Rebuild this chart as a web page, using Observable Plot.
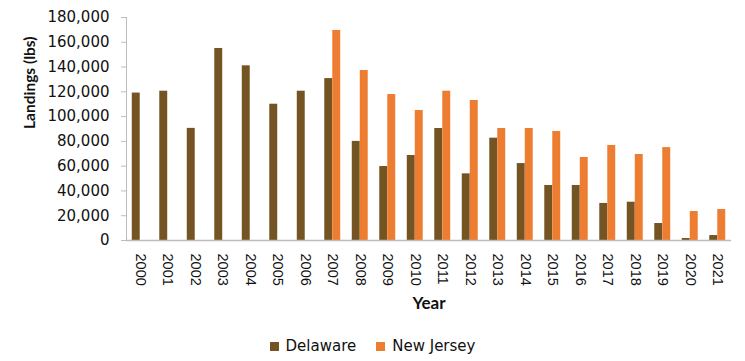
<!DOCTYPE html>
<html>
<head>
<meta charset="utf-8">
<script src="https://cdn.jsdelivr.net/npm/d3@7"></script>
<script src="https://cdn.jsdelivr.net/npm/@observablehq/plot@0.6"></script>
<style>
  html, body { margin: 0; padding: 0; background: #fff; }
  #chart { width: 745px; }
  .legend { display: flex; justify-content: center; align-items: center; height: 20px; margin-top: 16px;
            font-family: "DejaVu Sans", sans-serif; font-size: 15px; color: #111; }
  .legend .item { display: flex; align-items: center; margin: 0 10px; }
  .legend .sw { width: 9px; height: 9px; margin-right: 7px; }
</style>
</head>
<body>
<div id="chart"></div>
<script>
const years = ["2000","2001","2002","2003","2004","2005","2006","2007","2008","2009","2010",
               "2011","2012","2013","2014","2015","2016","2017","2018","2019","2020","2021"];
const delaware = [119000,120500,90500,155000,141000,110000,120500,130700,80000,59700,68600,
                  90400,53800,82600,62100,44400,44400,29900,30900,13700,1600,4000];
const newJersey = [null,null,null,null,null,null,null,169500,137200,117800,104900,
                   120500,113000,90400,90400,88000,67000,76700,69400,75000,23400,25000];
const seriesNames = ["Delaware", "New Jersey"];
const seriesColors = ["#735422", "#ED7D31"];
const yTicks = [0,20000,40000,60000,80000,100000,120000,140000,160000,180000];

const rowsDE = years.map((y, i) => ({year: y, series: seriesNames[0], value: delaware[i]}));
const rowsNJ = years.map((y, i) => ({year: y, series: seriesNames[1], value: newJersey[i]}))
                    .filter(d => d.value != null);

const plot = Plot.plot({
  width: 745,
  height: 320,
  marginLeft: 126,
  marginRight: 14,
  marginTop: 17,
  marginBottom: 80,
  style: {fontFamily: "DejaVu Sans, sans-serif", background: "#fff"},
  x: {domain: years, paddingInner: 0.42, paddingOuter: 0.21, round: false, axis: null},
  y: {domain: [0, 180000], axis: null},
  marks: [
    Plot.barY(rowsDE, {x: "year", y: "value", fill: seriesColors[0], insetRight: 8}),
    Plot.barY(rowsNJ, {x: "year", y: "value", fill: seriesColors[1], insetLeft: 8}),
    Plot.ruleY([0], {stroke: "#bdbdbd", strokeWidth: 1.3}),
    Plot.axisY({ticks: yTicks, tickFormat: d3.format(","), tickSize: 5, tickPadding: 12,
                stroke: "#bdbdbd", fill: "#111", fontSize: 15, label: null}),
    Plot.frame({anchor: "left", stroke: "#bdbdbd"}),
    Plot.axisX({tickSize: 0, tickRotate: 90, tickPadding: 13, fontSize: 14.5,
                fontFamily: "Liberation Sans, Arial, sans-serif", fill: "#111", label: null}),
    Plot.text(["Landings (lbs)"], {text: d => d, frameAnchor: "left", rotate: -90, dx: -96, dy: 0,
              fontWeight: "bold", fontFamily: "Lato", fontSize: 15.5, fill: "#111"}),
    Plot.text(["Year"], {text: d => d, frameAnchor: "bottom", dy: 63, lineAnchor: "middle",
              fontWeight: "bold", fontFamily: "Lato", fontSize: 17, fill: "#111"})
  ]
});
document.getElementById("chart").appendChild(plot);

const legend = document.createElement("div");
legend.className = "legend";
seriesNames.forEach((name, i) => {
  const item = document.createElement("div");
  item.className = "item";
  const sw = document.createElement("span");
  sw.className = "sw";
  sw.style.background = seriesColors[i];
  const t = document.createElement("span");
  t.textContent = name;
  item.appendChild(sw);
  item.appendChild(t);
  legend.appendChild(item);
});
document.getElementById("chart").appendChild(legend);
</script>
</body>
</html>
